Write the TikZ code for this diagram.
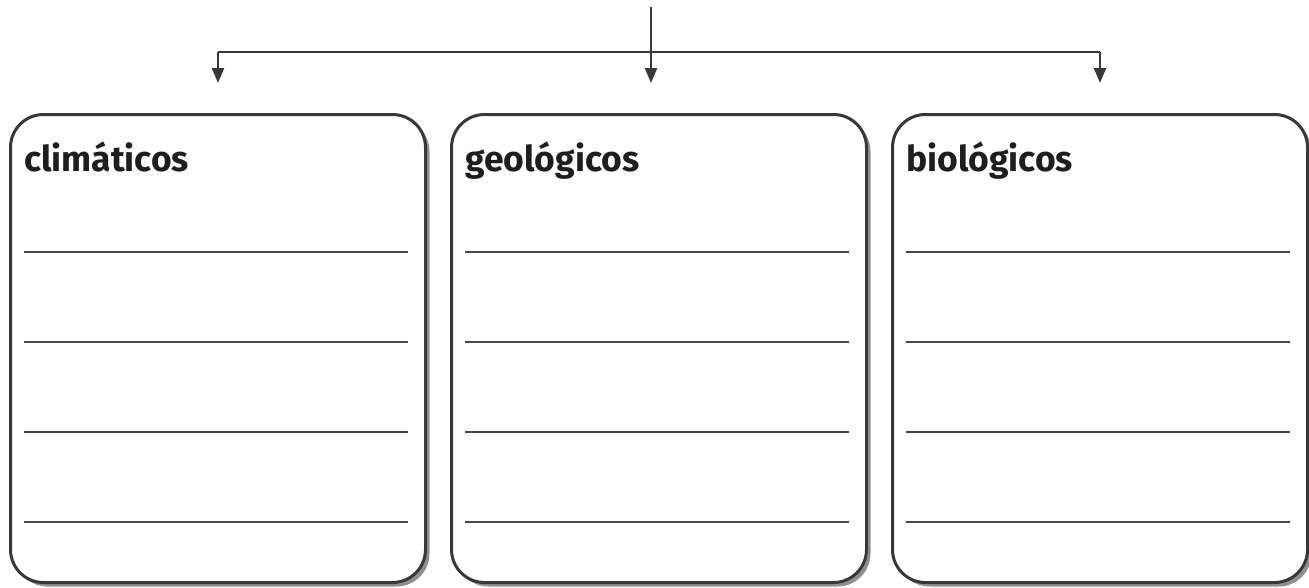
\documentclass[tikz,border=0pt]{standalone}
\usepackage{fontspec}
\setmainfont{Fira Sans}
\usetikzlibrary{arrows.meta,shadows,calc}
\definecolor{edge}{HTML}{383838}
\definecolor{rule}{HTML}{474747}
\definecolor{labelc}{HTML}{1E1E1E}
\begin{document}
\begin{tikzpicture}[x=1pt,y=-1pt,
  card/.style={draw=edge, line width=3pt, rounded corners=33pt, fill=white,
    minimum width=415pt, minimum height=468pt, anchor=north west, inner sep=0pt,
    drop shadow={shadow xshift=4pt, shadow yshift=-4pt, opacity=0.55, fill=black!80}},
  cardlabel/.style={anchor=base west, inner sep=0pt, text=labelc,
    font=\fontsize{35.5}{42}\selectfont\bfseries},
  writeline/.style={draw=rule, line width=2.6pt},
  conn/.style={draw=edge, line width=2.2pt},
  arrow/.style={conn, -{Triangle[width=12pt,length=15pt]}}
]
\useasboundingbox (0,0) rectangle (1309,587);

\node[card] (b1) at (9,113) {};
\node[card] (b2) at (450,113) {};
\node[card] (b3) at (891,113) {};

\node[cardlabel] (l1) at ($(b1.north west)+(15,58)$) {climáticos};
\node[cardlabel] (l2) at ($(b2.north west)+(15,58)$) {geológicos};
\node[cardlabel] (l3) at ($(b3.north west)+(15,58)$) {biológicos};

\foreach \b in {b1,b2,b3}{
  \foreach \dy in {139,229,319,409}{
    \draw[writeline] ($(\b.north west)+(15,\dy)$) -- ++(384,0);
  }
}

\coordinate (top) at (651,7);
\coordinate (lc) at ($(b1.north)+(0,-61)$);
\coordinate (rc) at ($(b3.north)+(0,-61)$);
\draw[conn] (lc) -- (rc);
\draw[arrow] (top) -- (651,83);
\draw[arrow] (lc) -- ($(b1.north)+(0,-30)$);
\draw[arrow] (rc) -- ($(b3.north)+(0,-30)$);
\end{tikzpicture}
\end{document}
